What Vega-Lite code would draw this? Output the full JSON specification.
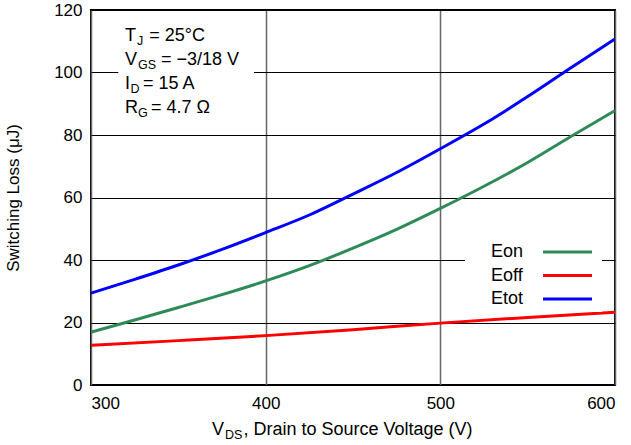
{
  "$schema": "https://vega.github.io/schema/vega-lite/v6.json",
  "width": 524,
  "height": 375,
  "autosize": {"type": "none"},
  "padding": {"left": 91, "top": 10, "right": 16, "bottom": 60},
  "background": "white",
  "config": {
    "view": {"stroke": "black", "strokeWidth": 2},
    "font": "Liberation Sans",
    "text": {"font": "Liberation Sans", "color": "black"}
  },
  "datasets": {
    "one": [{}],
    "curves": [
      {"vds": 300, "loss": 16.9, "curve": "Eon"},
      {"vds": 325, "loss": 20.8, "curve": "Eon"},
      {"vds": 350, "loss": 24.8, "curve": "Eon"},
      {"vds": 375, "loss": 28.9, "curve": "Eon"},
      {"vds": 400, "loss": 33.3, "curve": "Eon"},
      {"vds": 425, "loss": 38.2, "curve": "Eon"},
      {"vds": 450, "loss": 43.8, "curve": "Eon"},
      {"vds": 475, "loss": 49.8, "curve": "Eon"},
      {"vds": 500, "loss": 56.5, "curve": "Eon"},
      {"vds": 525, "loss": 63.6, "curve": "Eon"},
      {"vds": 550, "loss": 71.2, "curve": "Eon"},
      {"vds": 575, "loss": 79.6, "curve": "Eon"},
      {"vds": 600, "loss": 87.8, "curve": "Eon"},
      {"vds": 300, "loss": 12.7, "curve": "Eoff"},
      {"vds": 350, "loss": 14.2, "curve": "Eoff"},
      {"vds": 400, "loss": 15.8, "curve": "Eoff"},
      {"vds": 450, "loss": 17.7, "curve": "Eoff"},
      {"vds": 500, "loss": 19.8, "curve": "Eoff"},
      {"vds": 550, "loss": 21.6, "curve": "Eoff"},
      {"vds": 600, "loss": 23.3, "curve": "Eoff"},
      {"vds": 300, "loss": 29.4, "curve": "Etot"},
      {"vds": 325, "loss": 33.8, "curve": "Etot"},
      {"vds": 350, "loss": 38.4, "curve": "Etot"},
      {"vds": 375, "loss": 43.4, "curve": "Etot"},
      {"vds": 400, "loss": 48.8, "curve": "Etot"},
      {"vds": 425, "loss": 54.4, "curve": "Etot"},
      {"vds": 450, "loss": 61.1, "curve": "Etot"},
      {"vds": 475, "loss": 68.0, "curve": "Etot"},
      {"vds": 500, "loss": 75.6, "curve": "Etot"},
      {"vds": 525, "loss": 83.5, "curve": "Etot"},
      {"vds": 550, "loss": 92.3, "curve": "Etot"},
      {"vds": 575, "loss": 101.6, "curve": "Etot"},
      {"vds": 600, "loss": 110.7, "curve": "Etot"}
    ]
  },
  "layer": [
    {
      "data": {"name": "curves"},
      "mark": {"type": "line", "strokeWidth": 3, "interpolate": "monotone", "clip": true},
      "encoding": {
        "x": {
          "field": "vds", "type": "quantitative",
          "scale": {"domain": [300, 600], "nice": false, "zero": false},
          "axis": {
            "title": null, "values": [300, 400, 500, 600], "ticks": false, "domain": false,
            "labelFontSize": 17, "labelColor": "black", "labelPadding": 10, "labelFont": "Liberation Sans",
            "grid": true, "gridColor": "#666666", "gridWidth": 1.5, "gridOpacity": 1
          }
        },
        "y": {
          "field": "loss", "type": "quantitative",
          "scale": {"domain": [0, 120], "nice": false},
          "axis": {
            "title": "Switching Loss (μJ)", "titleFontSize": 17, "titleFontWeight": "normal", "titleColor": "black",
            "titleFont": "Liberation Sans", "titlePadding": 31,
            "values": [0, 20, 40, 60, 80, 100, 120], "ticks": false, "domain": false,
            "labelFontSize": 17, "labelColor": "black", "labelPadding": 9, "labelFont": "Liberation Sans",
            "grid": true, "gridColor": "black", "gridWidth": 1, "gridOpacity": 1
          }
        },
        "color": {
          "field": "curve", "type": "nominal",
          "scale": {"domain": ["Eon", "Eoff", "Etot"], "range": ["#2e8b57", "#ff0000", "#0000ff"]},
          "legend": {
            "title": null, "orient": "none", "legendX": 374, "legendY": 229,
            "symbolType": "M 32.5 0 L 57 0", "symbolSize": 16, "symbolStrokeWidth": 3,
            "labelFontSize": 18, "labelFont": "Liberation Sans", "labelColor": "black",
            "labelOffset": 4, "rowPadding": 5.5,
            "padding": 4, "fillColor": "white", "strokeColor": null
          }
        }
      }
    },
    {
      "data": {"name": "one"},
      "mark": {"type": "rect", "color": "white"},
      "encoding": {
        "x": {"datum": 315.6, "type": "quantitative"},
        "x2": {"datum": 393.3},
        "y": {"datum": 83, "type": "quantitative"},
        "y2": {"datum": 117}
      }
    },
    {"data": {"name": "one"}, "mark": {"type": "text", "align": "left", "baseline": "alphabetic", "dx": 34, "dy": 30.7, "fontSize": 18, "text": "T"},
     "encoding": {"x": {"datum": 300, "type": "quantitative"}, "y": {"datum": 120, "type": "quantitative"}}},
    {"data": {"name": "one"}, "mark": {"type": "text", "align": "left", "baseline": "alphabetic", "dx": 46, "dy": 34.7, "fontSize": 12.5, "text": "J"},
     "encoding": {"x": {"datum": 300, "type": "quantitative"}, "y": {"datum": 120, "type": "quantitative"}}},
    {"data": {"name": "one"}, "mark": {"type": "text", "align": "left", "baseline": "alphabetic", "dx": 58.3, "dy": 30.7, "fontSize": 18, "text": "= 25°C"},
     "encoding": {"x": {"datum": 300, "type": "quantitative"}, "y": {"datum": 120, "type": "quantitative"}}},
    {"data": {"name": "one"}, "mark": {"type": "text", "align": "left", "baseline": "alphabetic", "dx": 34, "dy": 55, "fontSize": 18, "text": "V"},
     "encoding": {"x": {"datum": 300, "type": "quantitative"}, "y": {"datum": 120, "type": "quantitative"}}},
    {"data": {"name": "one"}, "mark": {"type": "text", "align": "left", "baseline": "alphabetic", "dx": 47, "dy": 59, "fontSize": 12.5, "text": "GS"},
     "encoding": {"x": {"datum": 300, "type": "quantitative"}, "y": {"datum": 120, "type": "quantitative"}}},
    {"data": {"name": "one"}, "mark": {"type": "text", "align": "left", "baseline": "alphabetic", "dx": 70, "dy": 55, "fontSize": 18, "text": "= −3/18 V"},
     "encoding": {"x": {"datum": 300, "type": "quantitative"}, "y": {"datum": 120, "type": "quantitative"}}},
    {"data": {"name": "one"}, "mark": {"type": "text", "align": "left", "baseline": "alphabetic", "dx": 34, "dy": 79.3, "fontSize": 18, "text": "I"},
     "encoding": {"x": {"datum": 300, "type": "quantitative"}, "y": {"datum": 120, "type": "quantitative"}}},
    {"data": {"name": "one"}, "mark": {"type": "text", "align": "left", "baseline": "alphabetic", "dx": 39.5, "dy": 83.3, "fontSize": 12.5, "text": "D"},
     "encoding": {"x": {"datum": 300, "type": "quantitative"}, "y": {"datum": 120, "type": "quantitative"}}},
    {"data": {"name": "one"}, "mark": {"type": "text", "align": "left", "baseline": "alphabetic", "dx": 52, "dy": 79.3, "fontSize": 18, "text": "= 15 A"},
     "encoding": {"x": {"datum": 300, "type": "quantitative"}, "y": {"datum": 120, "type": "quantitative"}}},
    {"data": {"name": "one"}, "mark": {"type": "text", "align": "left", "baseline": "alphabetic", "dx": 34, "dy": 102.7, "fontSize": 18, "text": "R"},
     "encoding": {"x": {"datum": 300, "type": "quantitative"}, "y": {"datum": 120, "type": "quantitative"}}},
    {"data": {"name": "one"}, "mark": {"type": "text", "align": "left", "baseline": "alphabetic", "dx": 47, "dy": 106.7, "fontSize": 12.5, "text": "G"},
     "encoding": {"x": {"datum": 300, "type": "quantitative"}, "y": {"datum": 120, "type": "quantitative"}}},
    {"data": {"name": "one"}, "mark": {"type": "text", "align": "left", "baseline": "alphabetic", "dx": 60, "dy": 102.7, "fontSize": 18, "text": "= 4.7 Ω"},
     "encoding": {"x": {"datum": 300, "type": "quantitative"}, "y": {"datum": 120, "type": "quantitative"}}},
    {"data": {"name": "one"}, "mark": {"type": "text", "align": "left", "baseline": "alphabetic", "dx": 121, "dy": 49.5, "fontSize": 18, "text": "V"},
     "encoding": {"x": {"datum": 300, "type": "quantitative"}, "y": {"datum": 0, "type": "quantitative"}}},
    {"data": {"name": "one"}, "mark": {"type": "text", "align": "left", "baseline": "alphabetic", "dx": 134, "dy": 53.5, "fontSize": 12.5, "text": "DS"},
     "encoding": {"x": {"datum": 300, "type": "quantitative"}, "y": {"datum": 0, "type": "quantitative"}}},
    {"data": {"name": "one"}, "mark": {"type": "text", "align": "left", "baseline": "alphabetic", "dx": 152.5, "dy": 49.5, "fontSize": 18, "text": ", Drain to Source Voltage (V)"},
     "encoding": {"x": {"datum": 300, "type": "quantitative"}, "y": {"datum": 0, "type": "quantitative"}}}
  ]
}
